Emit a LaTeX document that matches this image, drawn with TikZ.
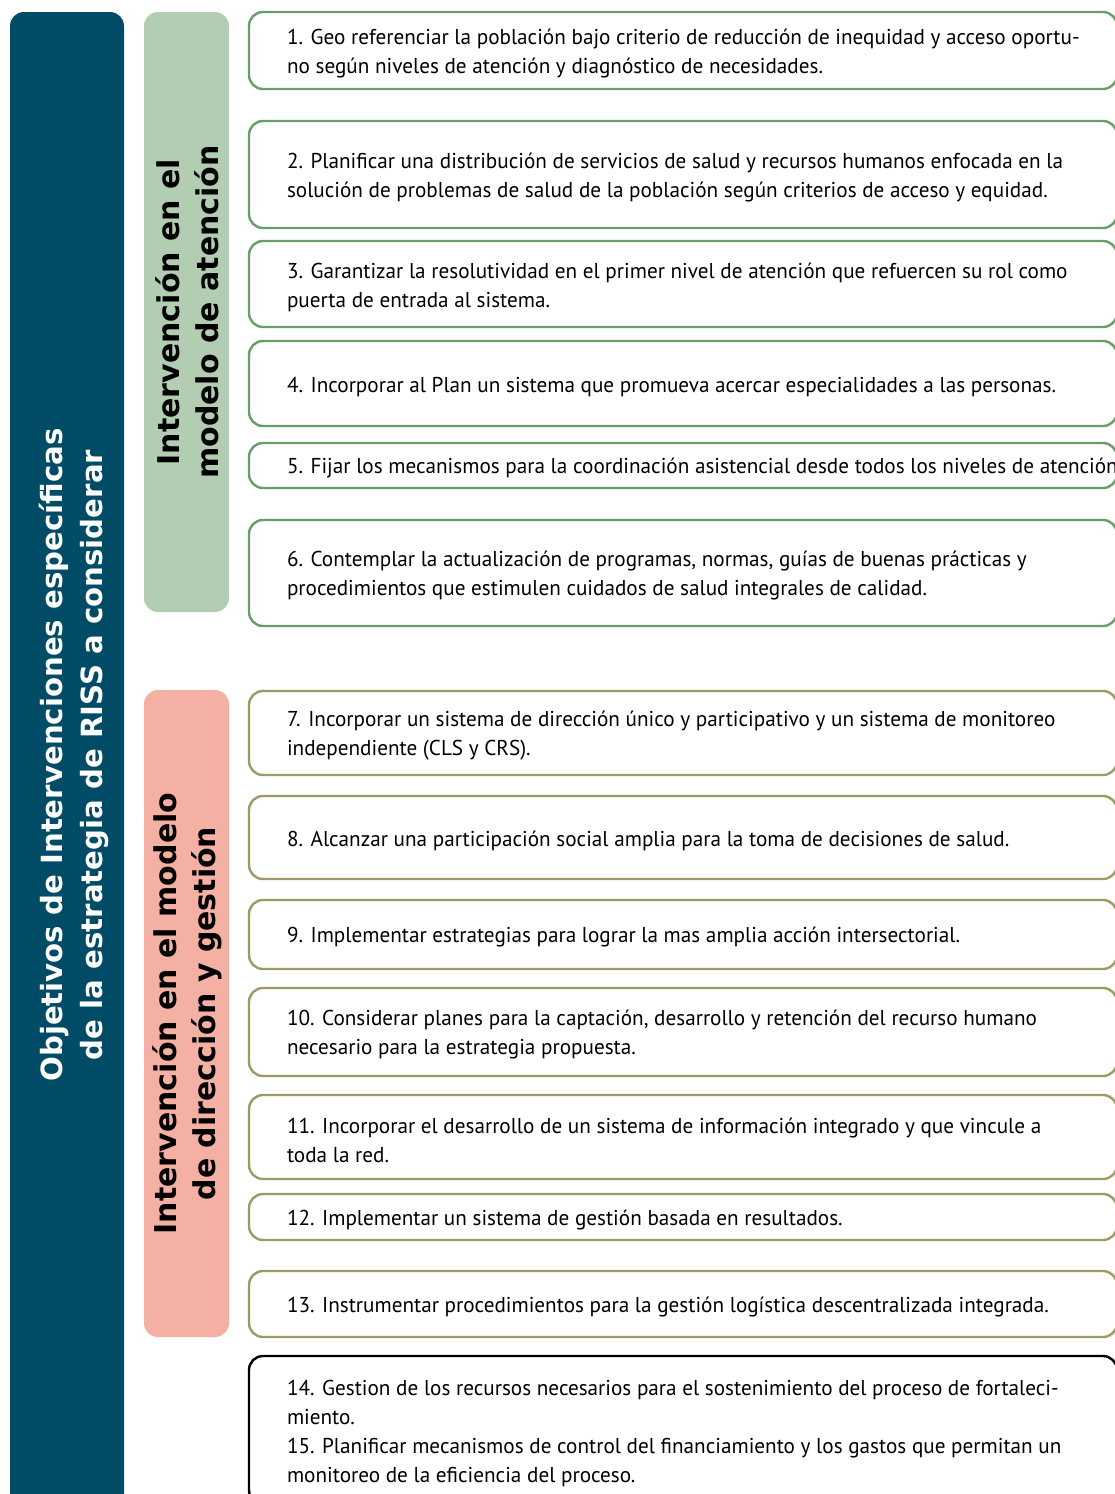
\documentclass[tikz,border=0pt]{standalone}
\usepackage{fontspec}
\usepackage{tikz}
\definecolor{c004B66}{RGB}{0,75,102}
\definecolor{cB3CDB3}{RGB}{179,205,179}
\definecolor{cF4B0A3}{RGB}{244,176,163}
\definecolor{c6A9E68}{RGB}{106,158,104}
\definecolor{c9E9A66}{RGB}{158,154,102}
\usetikzlibrary{positioning}
\newfontfamily\itemfont[FakeStretch=0.985]{PT Sans}
\newfontfamily\headfont{DejaVu Sans}
\tikzset{
  itembox/.style={draw=#1, fill=white, line width=2.4pt, rounded corners=14pt,
    minimum width=868pt, anchor=north west},
  itemtext/.style={align=left, inner sep=0pt, yshift=-3pt,
    font=\itemfont\fontsize{21.5}{29}\selectfont},
  panel/.style={fill=#1, rounded corners=14pt, anchor=north west},
  headtext/.style={rotate=90, align=center, inner sep=0pt,
    font=\headfont\bfseries\fontsize{30}{39}\selectfont}
}

\begin{document}
\begin{tikzpicture}[y=1pt,x=1pt,yscale=-1, inner sep=0pt, outer sep=0pt]
    \useasboundingbox (0,0) rectangle (1115,1494);
    \clip (0,0) rectangle (1115,1494);
    % left column
    \node[panel=c004B66, minimum width=114pt, minimum height=1510pt] (goal) at (10,12) {};
    \node[headtext, text=white, font=\headfont\bfseries\fontsize{29.2}{40}\selectfont]
      (goaltext) at (74,755)
      {Objetivos de Intervenciones específicas\\de la estrategia de RISS a considerar};
    \node[panel=cB3CDB3, minimum width=85pt, minimum height=600pt] (care) at (144,12) {};
    \node[headtext] (caretext) at ([xshift=1pt]care.center) {Intervención en el\\modelo de atención};
    \node[panel=cF4B0A3, minimum width=85pt, minimum height=647pt] (mgmt) at (144,690) {};
    \node[headtext] (mgmttext) at ([xshift=1pt]mgmt.center) {Intervención en el modelo\\de dirección y gestión};

    % modelo de atencion
    \node[itembox=c6A9E68, minimum height=77pt] (obj1) at (249,12) {};
    \node[itemtext, right=38pt of obj1.west] (txt1) {1. Geo referenciar la población bajo criterio de reducción de inequidad y acceso oportu-\\no según niveles de atención y diagnóstico de necesidades.};
    \node[itembox=c6A9E68, minimum height=107pt] (obj2) at (249,121) {};
    \node[itemtext, right=38pt of obj2.west] (txt2) {2. Planificar una distribución de servicios de salud y recursos humanos enfocada en la\\solución de problemas de salud de la población según criterios de acceso y equidad.};
    \node[itembox=c6A9E68, minimum height=86pt] (obj3) at (249,241) {};
    \node[itemtext, right=38pt of obj3.west] (txt3) {3. Garantizar la resolutividad en el primer nivel de atención que refuercen su rol como\\puerta de entrada al sistema.};
    \node[itembox=c6A9E68, minimum height=85pt] (obj4) at (249,341) {};
    \node[itemtext, right=38pt of obj4.west] (txt4) {4. Incorporar al Plan un sistema que promueva acercar especialidades a las personas.};
    \node[itembox=c6A9E68, minimum height=45pt] (obj5) at (249,443) {};
    \node[itemtext, right=38pt of obj5.west] (txt5) {5. Fijar los mecanismos para la coordinación asistencial desde todos los niveles de atención};
    \node[itembox=c6A9E68, minimum height=106pt] (obj6) at (249,520) {};
    \node[itemtext, right=38pt of obj6.west] (txt6) {6. Contemplar la actualización de programas, normas, guías de buenas prácticas y\\procedimientos que estimulen cuidados de salud integrales de calidad.};

    % modelo de direccion y gestion
    \node[itembox=c9E9A66, minimum height=84pt] (obj7) at (249,691) {};
    \node[itemtext, right=38pt of obj7.west] (txt7) {7. Incorporar un sistema de dirección único y participativo y un sistema de monitoreo\\independiente (CLS y CRS).};
    \node[itembox=c9E9A66, minimum height=83pt] (obj8) at (249,796) {};
    \node[itemtext, right=38pt of obj8.west] (txt8) {8. Alcanzar una participación social amplia para la toma de decisiones de salud.};
    \node[itembox=c9E9A66, minimum height=69pt] (obj9) at (249,900) {};
    \node[itemtext, right=38pt of obj9.west] (txt9) {9. Implementar estrategias para lograr la mas amplia acción intersectorial.};
    \node[itembox=c9E9A66, minimum height=88pt] (obj10) at (249,988) {};
    \node[itemtext, right=38pt of obj10.west] (txt10) {10. Considerar planes para la captación, desarrollo y retención del recurso humano\\necesario para la estrategia propuesta.};
    \node[itembox=c9E9A66, minimum height=84pt] (obj11) at (249,1095) {};
    \node[itemtext, right=38pt of obj11.west] (txt11) {11. Incorporar el desarrollo de un sistema de información integrado y que vincule a\\toda la red.};
    \node[itembox=c9E9A66, minimum height=46pt] (obj12) at (249,1194) {};
    \node[itemtext, right=38pt of obj12.west] (txt12) {12. Implementar un sistema de gestión basada en resultados.};
    \node[itembox=c9E9A66, minimum height=66pt] (obj13) at (249,1271) {};
    \node[itemtext, right=38pt of obj13.west] (txt13) {13. Instrumentar procedimientos para la gestión logística descentralizada integrada.};

    % recursos
    \node[itembox=black, minimum height=148pt] (obj14) at (249,1356) {};
    \node[itemtext, right=38pt of obj14.west] (txt14) {14. Gestion de los recursos necesarios para el sostenimiento del proceso de fortaleci-\\miento.\\15. Planificar mecanismos de control del financiamiento y los gastos que permitan un\\monitoreo de la eficiencia del proceso.};
  \end{tikzpicture}
\end{document}
